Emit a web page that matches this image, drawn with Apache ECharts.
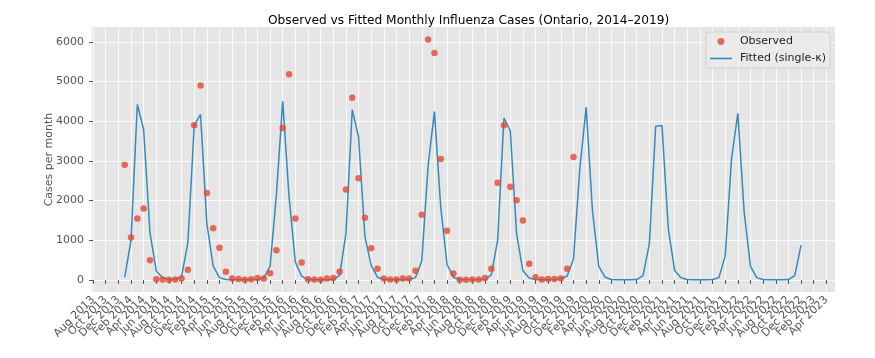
<!DOCTYPE html>
<html>
<head>
<meta charset="utf-8">
<title>Observed vs Fitted Monthly Influenza Cases</title>
<script src="https://cdn.jsdelivr.net/npm/echarts@6/dist/echarts.min.js"></script>
<style>
    html, body { margin: 0; padding: 0; background: #fff; }
    #chart { width: 875px; height: 358px; }
</style>
</head>
<body>
<div id="chart"></div>
<script>
/* months counted from Aug 2013 (= 0); data starts Jan 2014 (= 5) */
var firstMonth = 5;

/* observed monthly cases, Jan 2014 .. Dec 2019 */
var observed = [
    2900, 1070, 1550, 1800, 500, 20, 15, 5, 15, 40, 260, 3900,
    4900, 2190, 1300, 810, 210, 40, 25, 5, 20, 50, 40, 170,
    750, 3830, 5180, 1550, 440, 20, 15, 5, 35, 50, 210, 2280,
    4590, 2560, 1570, 800, 280, 40, 15, 15, 40, 40, 230, 1640,
    6060, 5720, 3050, 1240, 160, 5, 5, 15, 15, 50, 280, 2450,
    3900, 2350, 2010, 1500, 410, 70, 15, 25, 25, 40, 280, 3100
];

/* fitted (single-k), Jan 2014 .. Dec 2022 */
var fitted = [
    70, 1000, 4420, 3790, 1190, 220, 60, 10, 10, 90, 950, 3890,
    4170, 1420, 350, 60, 10, 5, 5, 5, 5, 10, 55, 340,
    2150, 4500, 2100, 450, 95, 10, 5, 5, 5, 10, 115, 1160,
    4290, 3600, 1100, 360, 70, 10, 5, 5, 5, 10, 60, 480,
    2880, 4240, 1830, 390, 70, 10, 5, 5, 5, 10, 130, 1000,
    4080, 3760, 1160, 230, 50, 10, 5, 5, 5, 30, 100, 530,
    2800, 4350, 1750, 340, 70, 10, 5, 5, 5, 10, 110, 910,
    3870, 3890, 1290, 240, 55, 10, 5, 5, 5, 10, 60, 600,
    3050, 4200, 1710, 340, 60, 10, 5, 5, 5, 10, 110, 880
];

/* x tick labels, every 2 months from Aug 2013 */
var xTickLabels = [
    'Aug 2013', 'Oct 2013', 'Dec 2013', 'Feb 2014', 'Apr 2014', 'Jun 2014',
    'Aug 2014', 'Oct 2014', 'Dec 2014', 'Feb 2015', 'Apr 2015', 'Jun 2015',
    'Aug 2015', 'Oct 2015', 'Dec 2015', 'Feb 2016', 'Apr 2016', 'Jun 2016',
    'Aug 2016', 'Oct 2016', 'Dec 2016', 'Feb 2017', 'Apr 2017', 'Jun 2017',
    'Aug 2017', 'Oct 2017', 'Dec 2017', 'Feb 2018', 'Apr 2018', 'Jun 2018',
    'Aug 2018', 'Oct 2018', 'Dec 2018', 'Feb 2019', 'Apr 2019', 'Jun 2019',
    'Aug 2019', 'Oct 2019', 'Dec 2019', 'Feb 2020', 'Apr 2020', 'Jun 2020',
    'Aug 2020', 'Oct 2020', 'Dec 2020', 'Feb 2021', 'Apr 2021', 'Jun 2021',
    'Aug 2021', 'Oct 2021', 'Dec 2021', 'Feb 2022', 'Apr 2022', 'Jun 2022',
    'Aug 2022', 'Oct 2022', 'Dec 2022', 'Feb 2023', 'Apr 2023'
];

var yTicks = [0, 1000, 2000, 3000, 4000, 5000, 6000];

var xMin = -0.33, xMax = 117.37;

/* tick positions; the axis ends are added as blank entries so that
   echarts' min/max label check drops them instead of a real label */
var xTicks = [xMin];
xTickLabels.forEach(function (item, i) {
    xTicks.push(i * 2);
});
xTicks.push(xMax);

var obsData = [], fitData = [];
observed.forEach(function (v, i) {
    obsData.push([firstMonth + i, v]);
});
fitted.forEach(function (v, i) {
    fitData.push([firstMonth + i, v]);
});

var font = 'DejaVu Sans';
var grey = '#555555';

var box = document.getElementById('chart');
var myChart = echarts.init(box);

var options = {
    animation: false,
    backgroundColor: '#ffffff',
    textStyle: { fontFamily: font },
    title: {
        text: 'Observed vs Fitted Monthly Influenza Cases (Ontario, 2014\u20132019)',
        left: 263,
        top: 10,
        textStyle: { fontFamily: font, fontSize: 12.2, fontWeight: 'normal', color: '#000' }
    },
    grid: {
        left: 91,
        right: 40,
        top: 27,
        bottom: 66,
        show: true,
        backgroundColor: '#E5E5E5',
        borderWidth: 0
    },
    legend: {
        right: 45,
        top: 32,
        orient: 'vertical',
        itemGap: 6,
        itemWidth: 22,
        itemHeight: 7,
        padding: [4, 4, 4, 4],
        backgroundColor: 'rgba(235,235,235,0.8)',
        borderColor: '#d0d0d0',
        borderWidth: 1,
        borderRadius: 3,
        textStyle: { fontFamily: font, fontSize: 11, color: '#222', padding: [0, 0, 0, 3] },
        data: [
            { name: 'Observed', icon: 'path://M0,0 A3,3 0 1,1 0,0.01 Z M0,0 L0,0' },
            { name: 'Fitted (single-\u03ba)', icon: 'path://M0,0 L22,0 L22,1.6 L0,1.6 Z' }
        ]
    },
    xAxis: {
        type: 'value',
        min: xMin,
        max: xMax,
        axisLine: { show: false },
        axisTick: { show: true, length: 4, lineStyle: { color: grey }, customValues: xTicks },
        axisLabel: {
            rotate: 45,
            interval: 0,
            fontSize: 11,
            color: grey,
            margin: 6,
            showMinLabel: false,
            showMaxLabel: false,
            hideOverlap: false,
            customValues: xTicks,
            formatter: function (v) {
                if (v < 0 || v > 116.5) {
                    return '';
                }
                return xTickLabels[Math.round(v / 2)];
            }
        },
        splitLine: { show: true, lineStyle: { color: '#ffffff', width: 0.8 } }
    },
    yAxis: {
        type: 'value',
        min: -303,
        max: 6373,
        name: 'Cases per month',
        nameLocation: 'middle',
        nameGap: 36,
        nameMoveOverlap: false,
        nameTextStyle: { fontFamily: font, fontSize: 11, color: grey },
        axisLine: { show: false },
        axisTick: { show: true, length: 4, lineStyle: { color: grey }, customValues: yTicks },
        axisLabel: {
            fontSize: 11,
            color: grey,
            margin: 7,
            customValues: yTicks,
            formatter: function (v) {
                return String(v);
            }
        },
        splitLine: { show: true, lineStyle: { color: '#ffffff', width: 0.8 } }
    },
    series: [
        {
            name: 'Observed',
            type: 'scatter',
            symbolSize: 6.5,
            itemStyle: { color: '#E24A33' },
            data: obsData,
            z: 3
        },
        {
            name: 'Fitted (single-\u03ba)',
            type: 'line',
            symbol: 'none',
            lineStyle: { color: '#348ABD', width: 1.5 },
            itemStyle: { color: '#348ABD' },
            data: fitData,
            z: 2
        }
    ]
};
myChart.setOption(options);
</script>
</body>
</html>
